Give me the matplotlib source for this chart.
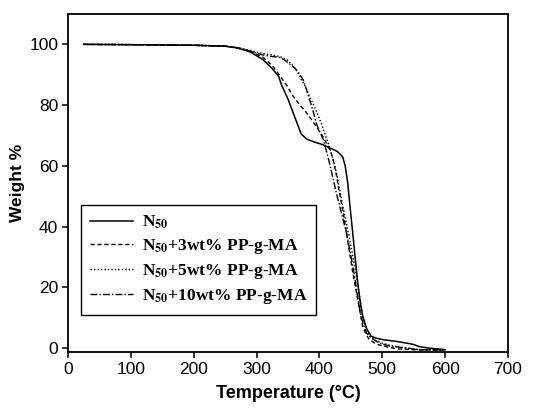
import matplotlib
matplotlib.use("Agg")
from matplotlib import pyplot as plt
from matplotlib.ticker import MultipleLocator

plt.rcParams['font.family'] = ['Liberation Sans', 'DejaVu Sans']
plt.rcParams['mathtext.fontset'] = 'stix'

# TGA curves: temperature (C) and weight (%)
temp_n50 = [25, 100, 200, 250, 270, 290, 310, 325, 335, 340, 350, 360, 371, 380, 390, 405,
            416, 428, 437, 441, 445, 449, 453, 457, 461, 465, 469, 475, 482, 490, 501, 520,
            538, 550, 559, 575, 591, 600]
wt_n50 = [100, 99.9, 99.7, 99.4, 98.8, 97.5, 95, 92, 89.5, 86.5, 82, 76.5, 70.5, 68.8, 68, 67,
          66, 64.8, 63, 60, 54.5, 46, 38, 29.5, 21.5, 15, 10.5, 6.5, 4, 3.3, 2.8, 2.3,
          1.7, 1.2, 0.5, 0, -0.3, -0.5]

temp_3 = [25, 100, 200, 250, 270, 290, 310, 325, 337, 348, 358, 368, 379, 389, 398, 406, 414,
          419, 422, 427, 432, 438, 443, 448, 453, 457, 461, 465, 469, 475, 480, 488, 496, 510,
          528, 560, 600]
wt_3 = [100, 99.9, 99.7, 99.4, 98.8, 97.7, 95.8, 93, 89.7, 86.5, 83, 80.3, 77.6, 74.8, 72, 69.5,
        66.5, 64, 62, 57, 51, 44.5, 38, 31.5, 25, 20.5, 16, 11.5, 7, 4.2, 2.7, 1.7, 1, 0.3,
        -0.3, -0.6, -0.6]

temp_5 = [25, 100, 200, 250, 270, 290, 310, 325, 337, 348, 358, 365, 371, 378, 384, 391, 398,
          403, 408, 414, 419, 427, 437, 448, 459, 469, 475, 480, 490, 501, 515, 528, 560, 600]
wt_5 = [100, 99.9, 99.7, 99.4, 98.9, 98, 97, 96.5, 96, 95, 93, 91, 88.5, 86, 83, 80, 76.5,
        74, 71, 67.5, 64, 58, 47, 36, 23.6, 10.5, 6.5, 3.9, 2.5, 1.6, 0.8, 0.3, -0.5, -0.6]

temp_10 = [25, 100, 200, 250, 270, 290, 310, 325, 337, 345, 353, 360, 366, 374, 379, 384, 390,
           395, 400, 406, 411, 416, 421, 427, 435, 443, 450, 456, 460, 464, 469, 475, 485, 496,
           510, 528, 559, 600]
wt_10 = [100, 99.9, 99.7, 99.4, 98.9, 97.8, 96.5, 96, 95.7, 94.8, 93.5, 92.3, 91, 88.4, 85.5,
         82, 78, 74, 71.5, 68.8, 65, 61, 56.5, 51, 44.5, 38, 30.5, 23.6, 18, 12.7, 8.5, 5, 3,
         1.6, 0.8, 0.3, -0.5, -0.6]

labels = [r"N$_{\mathbf{50}}$",
          r"N$_{\mathbf{50}}$+3wt% PP-g-MA",
          r"N$_{\mathbf{50}}$+5wt% PP-g-MA",
          r"N$_{\mathbf{50}}$+10wt% PP-g-MA"]

fig = plt.figure(figsize=(5.48, 4.11), dpi=100)
ax = fig.add_axes([0.124, 0.144, 0.803, 0.822])

ax.plot(temp_n50, wt_n50, color='black', lw=1.1, ls='-', label=labels[0])
ax.plot(temp_3, wt_3, color='black', lw=1.0, ls=(0, (3, 2)), label=labels[1])
ax.plot(temp_5, wt_5, color='black', lw=1.0, ls=(0, (1, 1.5)), label=labels[2])
ax.plot(temp_10, wt_10, color='black', lw=1.0, ls=(0, (5, 1.5, 1, 1.5)), label=labels[3])

ax.set_xlim(0, 700)
ax.set_ylim(-1.2, 110)
ax.xaxis.set_major_locator(MultipleLocator(100))
ax.yaxis.set_major_locator(MultipleLocator(20))
ax.tick_params(which='major', direction='out', length=4, width=1.1, labelsize=12.5, pad=3)
for s in ax.spines.values():
    s.set_linewidth(1.3)

ax.set_xlabel("Temperature (\u00b0C)", fontsize=13, fontweight='bold', labelpad=6)
ax.set_ylabel("Weight %", fontsize=12.5, fontweight='bold', labelpad=3)

leg = ax.legend(loc='lower left', bbox_to_anchor=(0.03, 0.109), fancybox=False,
                edgecolor='black', framealpha=1, handlelength=2.5, handletextpad=0.5,
                labelspacing=0.35, borderpad=0.5, borderaxespad=0,
                prop={'family': 'Liberation Serif', 'weight': 'bold', 'size': 12.5})
leg.get_frame().set_linewidth(1.0)

fig.savefig("out.png", dpi=100)
